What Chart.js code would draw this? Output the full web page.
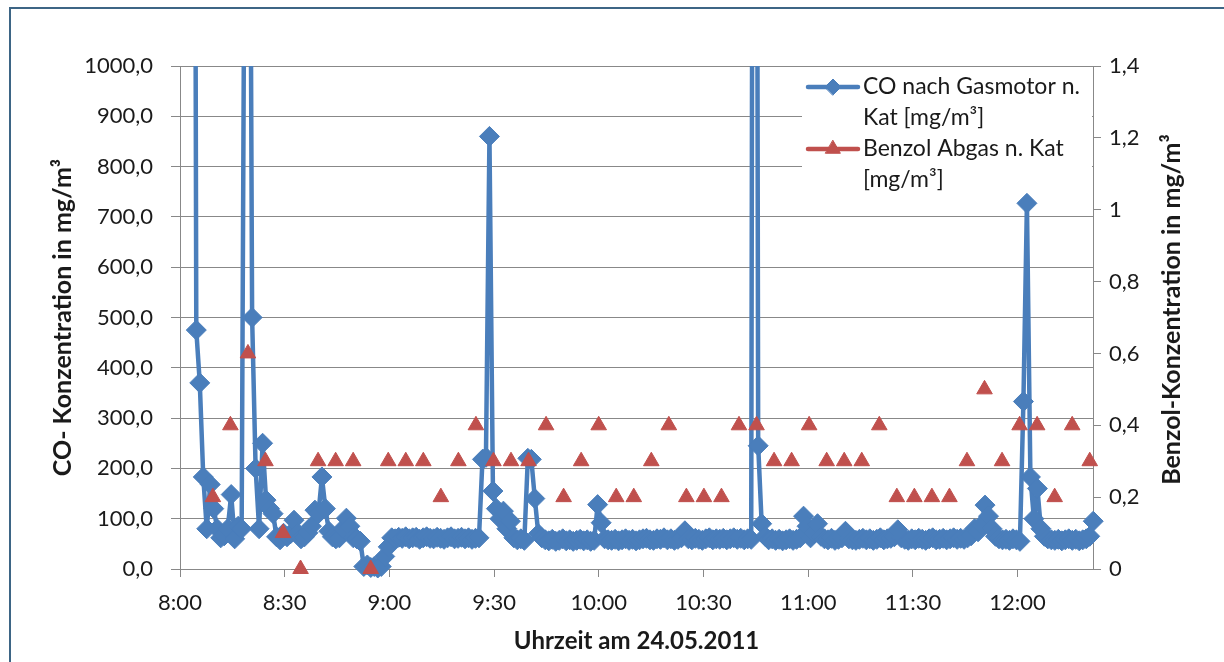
<!DOCTYPE html>
<html><head><meta charset="utf-8">
<script src="https://cdn.jsdelivr.net/npm/chart.js@4/dist/chart.umd.min.js"></script>
<style>
html,body{margin:0;padding:0;background:#fff;}
#wrap{position:relative;width:1224px;height:662px;}
</style></head><body>
<div id="wrap"><canvas id="c"></canvas></div>
<script>
// ---------- data ----------
const coLabelLines = ["CO nach Gasmotor n.", "Kat [mg/m³]"];
const benzolLabelLines = ["Benzol Abgas n. Kat", "[mg/m³]"];
const xTitle = "Uhrzeit am 24.05.2011";
const yTitle = "CO- Konzentration in mg/m³";
const y2Title = "Benzol-Konzentration in mg/m³";

// CO series: one reading per minute starting at coStart
const coStart = "8:03:40";
const coIntervalSeconds = 60;
const coValues = [
  3400, 475, 370, 183, 80, 168, 120, 80, 62, 66,
  80, 148, 60, 85, 80, 1600, 2100, 500, 200, 80,
  250, 137, 120, 110, 64, 58, 71, 64, 70, 97,
  72, 60, 64, 72, 85, 117, 110, 183, 120, 75,
  64, 60, 62, 80, 101, 85, 62, 60, 55, 5,
  8, 3, 5, 2, 5, 25, 44, 62, 60, 63,
  61, 64, 60, 62, 63, 59, 62, 64, 61, 60,
  63, 61, 59, 62, 64, 60, 61, 63, 60, 62,
  59, 61, 62, 218, 222, 860, 155, 120, 100, 115,
  80, 95, 62, 58, 60, 57, 220, 218, 140, 70,
  62, 58, 56, 59, 55, 57, 60, 56, 58, 55,
  57, 59, 56, 58, 55, 57, 128, 92, 60, 58,
  57, 59, 56, 58, 60, 57, 59, 56, 58, 60,
  61, 58, 57, 60, 59, 62, 58, 60, 57, 59,
  62, 76, 60, 58, 61, 59, 57, 60, 62, 58,
  60, 59, 61, 58, 60, 62, 59, 61, 58, 60,
  59, 4000, 245, 90, 65, 58, 60, 57, 59, 56,
  58, 60, 57, 59, 62, 105, 85, 62, 70, 90,
  65, 60, 58, 61, 57, 59, 62, 75, 60, 58,
  57, 59, 61, 58, 60, 57, 59, 62, 58, 60,
  61, 64, 78, 62, 59, 57, 60, 58, 61, 59,
  57, 60, 62, 58, 59, 61, 58, 60, 62, 59,
  61, 59, 62, 66, 80, 74, 88, 127, 105, 80,
  65, 60, 58, 59, 57, 60, 58, 55, 333, 727,
  183, 100, 160, 80, 65, 60, 58, 57, 59, 56,
  58, 60, 57, 59, 56, 58, 60, 65, 95
];

// Benzol series: one analysis roughly every 5 minutes
const benzolStart = "8:09:25";
const benzolIntervalSeconds = 301.5;
const benzolValues = [
  0.2, 0.4, 0.6, 0.3, 0.1, 0, 0.3, 0.3, 0.3, 0,
  0.3, 0.3, 0.3, 0.2, 0.3, 0.4, 0.3, 0.3, 0.3, 0.4,
  0.2, 0.3, 0.4, 0.2, 0.2, 0.3, 0.4, 0.2, 0.2, 0.2,
  0.4, 0.4, 0.3, 0.3, 0.4, 0.3, 0.3, 0.3, 0.4, 0.2,
  0.2, 0.2, 0.2, 0.3, 0.5, 0.3, 0.4, 0.4, 0.2, 0.4,
  0.3
];

// axis ranges (minutes of day)
const xMinTime = "8:00";
const xMaxMinutes = 741.6;
const xStepMinutes = 30;
const yMax = 1000, yStep = 100;
const y2Max = 1.4, y2Step = 0.2;

// ---------- helpers ----------
function toMinutes(t) {
  const p = t.split(":").map(Number);
  return p[0] * 60 + p[1] + (p[2] || 0) / 60;
}
const coPoints = coValues.map((v, i) => ({ x: toMinutes(coStart) + i * coIntervalSeconds / 60, y: v }));
const benzolPoints = benzolValues.map((v, i) => ({ x: toMinutes(benzolStart) + i * benzolIntervalSeconds / 60, y: v }));

const FONT = "Lato, Carlito, 'Open Sans', sans-serif";
const BLUE = "#4A7EBB";
const RED = "#C0504D";
const GRID = "#888888";
const TEXT = "#1a1a1a";

const fmtTime = v => { const h = Math.floor(v / 60); const m = Math.round(v - h * 60); return h + ":" + String(m).padStart(2, "0"); };
const fmtLeft = v => v.toFixed(1).replace(".", ",");
const fmtRight = v => String(Number(v.toFixed(1))).replace(".", ",");

const extras = {
  id: "extras",
  afterDraw(chart) {
    const ctx = chart.ctx;
    const area = chart.chartArea;
    ctx.save();
    // outer frame (continues beyond the picture)
    ctx.strokeStyle = "#3d6585";
    ctx.lineWidth = 2;
    ctx.beginPath();
    ctx.moveTo(10, 700); ctx.lineTo(10, 8); ctx.lineTo(1300, 8);
    ctx.stroke();

    // right axis title (reads bottom to top)
    ctx.fillStyle = TEXT;
    ctx.font = "bold 25px " + FONT;
    ctx.textAlign = "center";
    ctx.textBaseline = "middle";
    ctx.translate(1172, (area.top + area.bottom) / 2 - 8);
    ctx.rotate(-Math.PI / 2);
    ctx.fillText(y2Title, 0, 0);
    ctx.restore();

    // legend
    ctx.save();
    ctx.fillStyle = "#ffffff";
    ctx.fillRect(802, area.top + 2, area.right - 802 - 1, 124);
    const entries = [
      { lines: coLabelLines, color: BLUE, style: "rectRot", r: 8, y: 87 },
      { lines: benzolLabelLines, color: RED, style: "triangle", r: 8.5, y: 149 }
    ];
    ctx.font = "23px " + FONT;
    ctx.textBaseline = "middle";
    ctx.textAlign = "left";
    for (const e of entries) {
      ctx.strokeStyle = e.color;
      ctx.lineWidth = 4.5;
      ctx.lineCap = "round";
      ctx.beginPath(); ctx.moveTo(808, e.y); ctx.lineTo(858, e.y); ctx.stroke();
      ctx.fillStyle = e.color;
      ctx.lineWidth = 1;
      Chart.helpers.drawPoint(ctx, { pointStyle: e.style, radius: e.r, rotation: 0, borderWidth: 1 }, 833, e.y);
      ctx.fillStyle = TEXT;
      ctx.fillText(e.lines[0], 863, e.y);
      ctx.fillText(e.lines[1], 863, e.y + 31);
    }
    ctx.restore();
  }
};

new Chart(document.getElementById("c"), {
  type: "scatter",
  data: {
    datasets: [
      {
        label: benzolLabelLines.join(" "),
        data: benzolPoints,
        yAxisID: "y2",
        showLine: false,
        pointStyle: "triangle",
        pointRadius: 9,
        pointBorderWidth: 1,
        pointBackgroundColor: RED,
        pointBorderColor: RED,
        borderColor: RED,
        backgroundColor: RED,
        clip: false
      },
      {
        label: coLabelLines.join(" "),
        data: coPoints,
        yAxisID: "y",
        showLine: true,
        borderColor: BLUE,
        backgroundColor: BLUE,
        borderWidth: 4.5,
        borderJoinStyle: "round",
        borderCapStyle: "round",
        tension: 0,
        pointStyle: "rectRot",
        pointRadius: 10,
        pointBorderWidth: 1,
        pointBackgroundColor: BLUE,
        pointBorderColor: BLUE,
        clip: { left: false, top: 0, right: false, bottom: false }
      }
    ]
  },
  options: {
    responsive: true,
    maintainAspectRatio: false,
    animation: false,
    events: [],
    layout: { padding: { top: 66, left: 0, right: 0, bottom: 0 } },
    plugins: { legend: { display: false }, tooltip: { enabled: false } },
    scales: {
      x: {
        type: "linear",
        position: "bottom",
        min: toMinutes(xMinTime),
        max: xMaxMinutes,
        ticks: { stepSize: xStepMinutes, includeBounds: false, autoSkip: false, maxRotation: 0, padding: 13,
                 color: TEXT, font: { family: FONT, size: 22 }, callback: v => fmtTime(v) },
        grid: { drawOnChartArea: false, drawTicks: true, tickLength: 8, color: GRID, lineWidth: 1 },
        border: { display: true, color: GRID, width: 1 },
        title: { display: true, text: xTitle, color: TEXT, font: { family: FONT, size: 24, weight: "bold" }, padding: { top: 0, bottom: 6 } },
        afterFit: s => { s.height = 93; }
      },
      y: {
        position: "left",
        min: 0, max: yMax,
        ticks: { stepSize: yStep, padding: 18, color: TEXT, font: { family: FONT, size: 22 }, callback: v => fmtLeft(v) },
        grid: { drawOnChartArea: true, drawTicks: true, tickLength: 9, color: GRID, lineWidth: 1 },
        border: { display: true, color: GRID, width: 1 },
        title: { display: true, text: yTitle, color: TEXT, font: { family: FONT, size: 25, weight: "bold" }, padding: { top: 48, bottom: 0 } },
        afterFit: s => { s.width = 180; }
      },
      y2: {
        position: "right",
        min: 0, max: y2Max,
        ticks: { stepSize: y2Step, padding: 8, color: TEXT, font: { family: FONT, size: 22 }, callback: v => fmtRight(v) },
        grid: { drawOnChartArea: false, drawTicks: true, tickLength: 8, color: GRID, lineWidth: 1 },
        border: { display: true, color: GRID, width: 1 },
        afterFit: s => { s.width = 131; }
      }
    }
  },
  plugins: [extras]
});
</script>
</body></html>
